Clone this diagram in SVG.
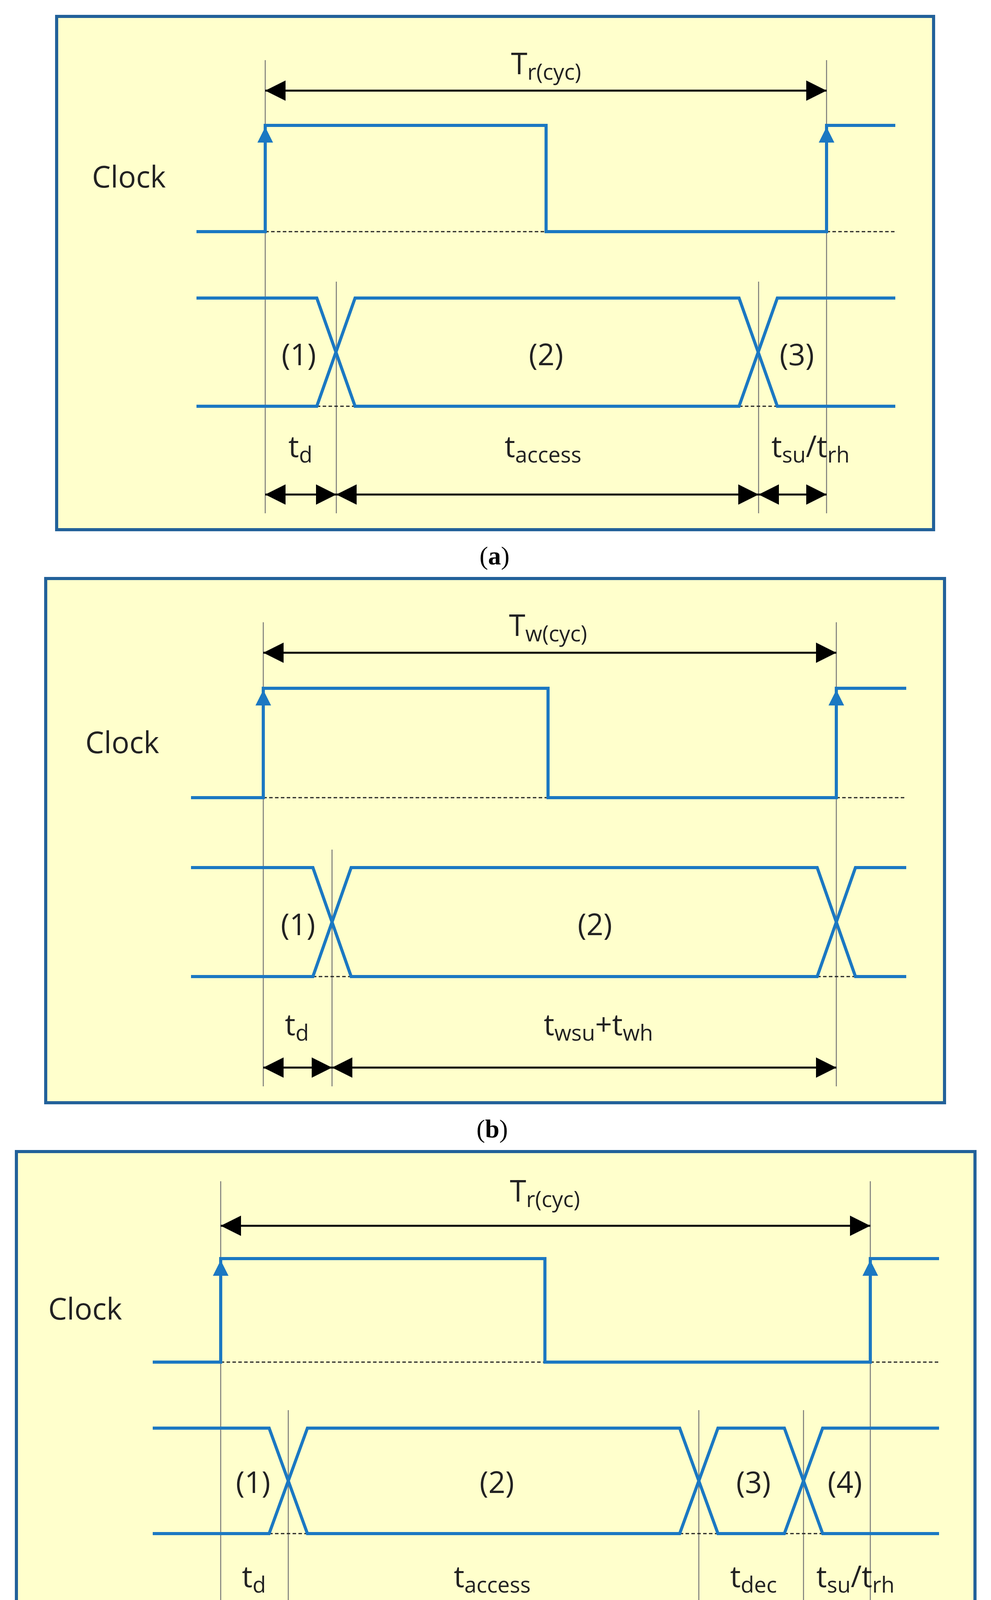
<svg xmlns="http://www.w3.org/2000/svg" width="2537" height="4375" viewBox="0 0 2537 4375">
<style>
.box{fill:#ffffcc;stroke:#22619a;stroke-width:8}
.sig{fill:none;stroke:#1b78c2;stroke-width:8}
.guide{stroke:#777;stroke-width:2.5}
.dash{stroke:#222;stroke-width:3;stroke-dasharray:9 6}
.dim{stroke:#000;stroke-width:5;marker-start:url(#ah);marker-end:url(#ah)}
.t{font-family:"Open Sans","Liberation Sans",sans-serif;font-size:76px;fill:#222;text-anchor:middle}
.s{font-size:56px}
.cap{font-family:"Liberation Serif",serif;font-size:66px;fill:#000;text-anchor:middle}
</style>
<defs>
<marker id="ah" viewBox="0 0 10 10" refX="10" refY="5" markerUnits="userSpaceOnUse" markerWidth="56" markerHeight="52" orient="auto-start-reverse"><path d="M0 0L10 5L0 10Z" fill="#000"/></marker>
<marker id="bh" viewBox="0 0 10 10" refX="10" refY="5" markerUnits="userSpaceOnUse" markerWidth="66" markerHeight="40" orient="auto"><path d="M0 0L10 5L0 10Z" fill="#1b78c2"/></marker>
</defs>

<g id="panel-a">
<rect class="box" x="145" y="42" width="2245" height="1314"/>
<text class="t" x="330" y="480">Clock</text>
<g id="a-guides">
<line class="guide" x1="679" y1="154" x2="679" y2="1314"/>
<line class="guide" x1="861" y1="721" x2="861" y2="1314"/>
<line class="guide" x1="1942" y1="721" x2="1942" y2="1314"/>
<line class="guide" x1="2116" y1="154" x2="2116" y2="1314"/>
</g>
<g id="a-clock">
<line class="dash" x1="679" y1="593" x2="1398" y2="593"/>
<line class="dash" x1="2116" y1="593" x2="2292" y2="593"/>
<path class="sig" d="M503 593H679V321H1398V593H2116V321H2292"/>
<line class="sig" x1="679" y1="420" x2="679" y2="325" marker-end="url(#bh)"/>
<line class="sig" x1="2116" y1="420" x2="2116" y2="325" marker-end="url(#bh)"/>
</g>
<g id="a-data">
<line class="dash" x1="811" y1="1040" x2="909" y2="1040"/>
<line class="dash" x1="1892" y1="1040" x2="1990" y2="1040"/>
<path class="sig" d="M503 763H811L909 1040H1892L1990 763H2292"/>
<path class="sig" d="M503 1040H811L909 763H1892L1990 1040H2292"/>
<text class="t" x="765" y="935">(1)</text>
<text class="t" x="1398" y="935">(2)</text>
<text class="t" x="2040" y="935">(3)</text>
</g>
<g id="a-dims">
<line class="dim" x1="679" y1="232" x2="2116" y2="232"/>
<line class="dim" x1="679" y1="1266" x2="861" y2="1266"/>
<line class="dim" x1="861" y1="1266" x2="1942" y2="1266"/>
<line class="dim" x1="1942" y1="1266" x2="2116" y2="1266"/>
<text class="t" x="1398" y="190">T<tspan class="s" dy="14">r(cyc)</tspan></text>
<text class="t" x="769" y="1170">t<tspan class="s" dy="14">d</tspan></text>
<text class="t" x="1390" y="1170">t<tspan class="s" dy="14">access</tspan></text>
<text class="t" x="2075" y="1170">t<tspan class="s" dy="14">su</tspan><tspan dy="-14">/t</tspan><tspan class="s" dy="14">rh</tspan></text>
</g>
</g>
<text class="cap" x="1266" y="1445">(<tspan font-weight="bold">a</tspan>)</text>

<g id="panel-b">
<rect class="box" x="117" y="1481" width="2301" height="1342"/>
<text class="t" x="313" y="1928">Clock</text>
<g id="b-guides">
<line class="guide" x1="674" y1="1593" x2="674" y2="2781"/>
<line class="guide" x1="850" y1="2175" x2="850" y2="2781"/>
<line class="guide" x1="2141" y1="1593" x2="2141" y2="2781"/>
</g>
<g id="b-clock">
<line class="dash" x1="674" y1="2042" x2="1403" y2="2042"/>
<line class="dash" x1="2141" y1="2042" x2="2320" y2="2042"/>
<path class="sig" d="M489 2042H674V1762H1403V2042H2141V1762H2320"/>
<line class="sig" x1="674" y1="1860" x2="674" y2="1766" marker-end="url(#bh)"/>
<line class="sig" x1="2141" y1="1860" x2="2141" y2="1766" marker-end="url(#bh)"/>
</g>
<g id="b-data">
<line class="dash" x1="801" y1="2500" x2="899" y2="2500"/>
<line class="dash" x1="2092" y1="2500" x2="2190" y2="2500"/>
<path class="sig" d="M489 2221H801L899 2500H2092L2190 2221H2320"/>
<path class="sig" d="M489 2500H801L899 2221H2092L2190 2500H2320"/>
<text class="t" x="763" y="2394">(1)</text>
<text class="t" x="1523" y="2394">(2)</text>
</g>
<g id="b-dims">
<line class="dim" x1="674" y1="1671" x2="2141" y2="1671"/>
<line class="dim" x1="674" y1="2733" x2="850" y2="2733"/>
<line class="dim" x1="850" y1="2733" x2="2141" y2="2733"/>
<text class="t" x="1403" y="1628">T<tspan class="s" dy="14">w(cyc)</tspan></text>
<text class="t" x="760" y="2650">t<tspan class="s" dy="14">d</tspan></text>
<text class="t" x="1532" y="2650">t<tspan class="s" dy="14">wsu</tspan><tspan dy="-14">+t</tspan><tspan class="s" dy="14">wh</tspan></text>
</g>
</g>
<text class="cap" x="1260" y="2912">(<tspan font-weight="bold">b</tspan>)</text>

<g id="panel-c">
<rect class="box" x="42" y="2948" width="2454" height="1278"/>
<text class="t" x="218" y="3378">Clock</text>
<g id="c-guides">
<line class="guide" x1="565" y1="3024" x2="565" y2="4193"/>
<line class="guide" x1="738" y1="3610" x2="738" y2="4193"/>
<line class="guide" x1="1789" y1="3610" x2="1789" y2="4193"/>
<line class="guide" x1="2057" y1="3610" x2="2057" y2="4193"/>
<line class="guide" x1="2228" y1="3024" x2="2228" y2="4193"/>
</g>
<g id="c-clock">
<line class="dash" x1="565" y1="3487" x2="1395" y2="3487"/>
<line class="dash" x1="2228" y1="3487" x2="2404" y2="3487"/>
<path class="sig" d="M391 3487H565V3222H1395V3487H2228V3222H2404"/>
<line class="sig" x1="565" y1="3320" x2="565" y2="3226" marker-end="url(#bh)"/>
<line class="sig" x1="2228" y1="3320" x2="2228" y2="3226" marker-end="url(#bh)"/>
</g>
<g id="c-data">
<line class="dash" x1="689" y1="3926" x2="787" y2="3926"/>
<line class="dash" x1="1740" y1="3926" x2="1838" y2="3926"/>
<line class="dash" x1="2008" y1="3926" x2="2106" y2="3926"/>
<path class="sig" d="M391 3656H689L787 3926H1740L1838 3656H2008L2106 3926H2404"/>
<path class="sig" d="M391 3926H689L787 3656H1740L1838 3926H2008L2106 3656H2404"/>
<text class="t" x="648" y="3822">(1)</text>
<text class="t" x="1272" y="3822">(2)</text>
<text class="t" x="1929" y="3822">(3)</text>
<text class="t" x="2163" y="3822">(4)</text>
</g>
<g id="c-dims">
<line class="dim" x1="565" y1="3138" x2="2228" y2="3138"/>
<line class="dim" x1="565" y1="4128" x2="738" y2="4128"/>
<line class="dim" x1="738" y1="4128" x2="1789" y2="4128"/>
<line class="dim" x1="1789" y1="4128" x2="2057" y2="4128"/>
<line class="dim" x1="2057" y1="4128" x2="2228" y2="4128"/>
<text class="t" x="1395" y="3076">T<tspan class="s" dy="14">r(cyc)</tspan></text>
<text class="t" x="650" y="4063">t<tspan class="s" dy="14">d</tspan></text>
<text class="t" x="1260" y="4063">t<tspan class="s" dy="14">access</tspan></text>
<text class="t" x="1929" y="4063">t<tspan class="s" dy="14">dec</tspan></text>
<text class="t" x="2190" y="4063">t<tspan class="s" dy="14">su</tspan><tspan dy="-14">/t</tspan><tspan class="s" dy="14">rh</tspan></text>
</g>
</g>
<text class="cap" x="1260" y="4338">(<tspan font-weight="bold">c</tspan>)</text>
</svg>
